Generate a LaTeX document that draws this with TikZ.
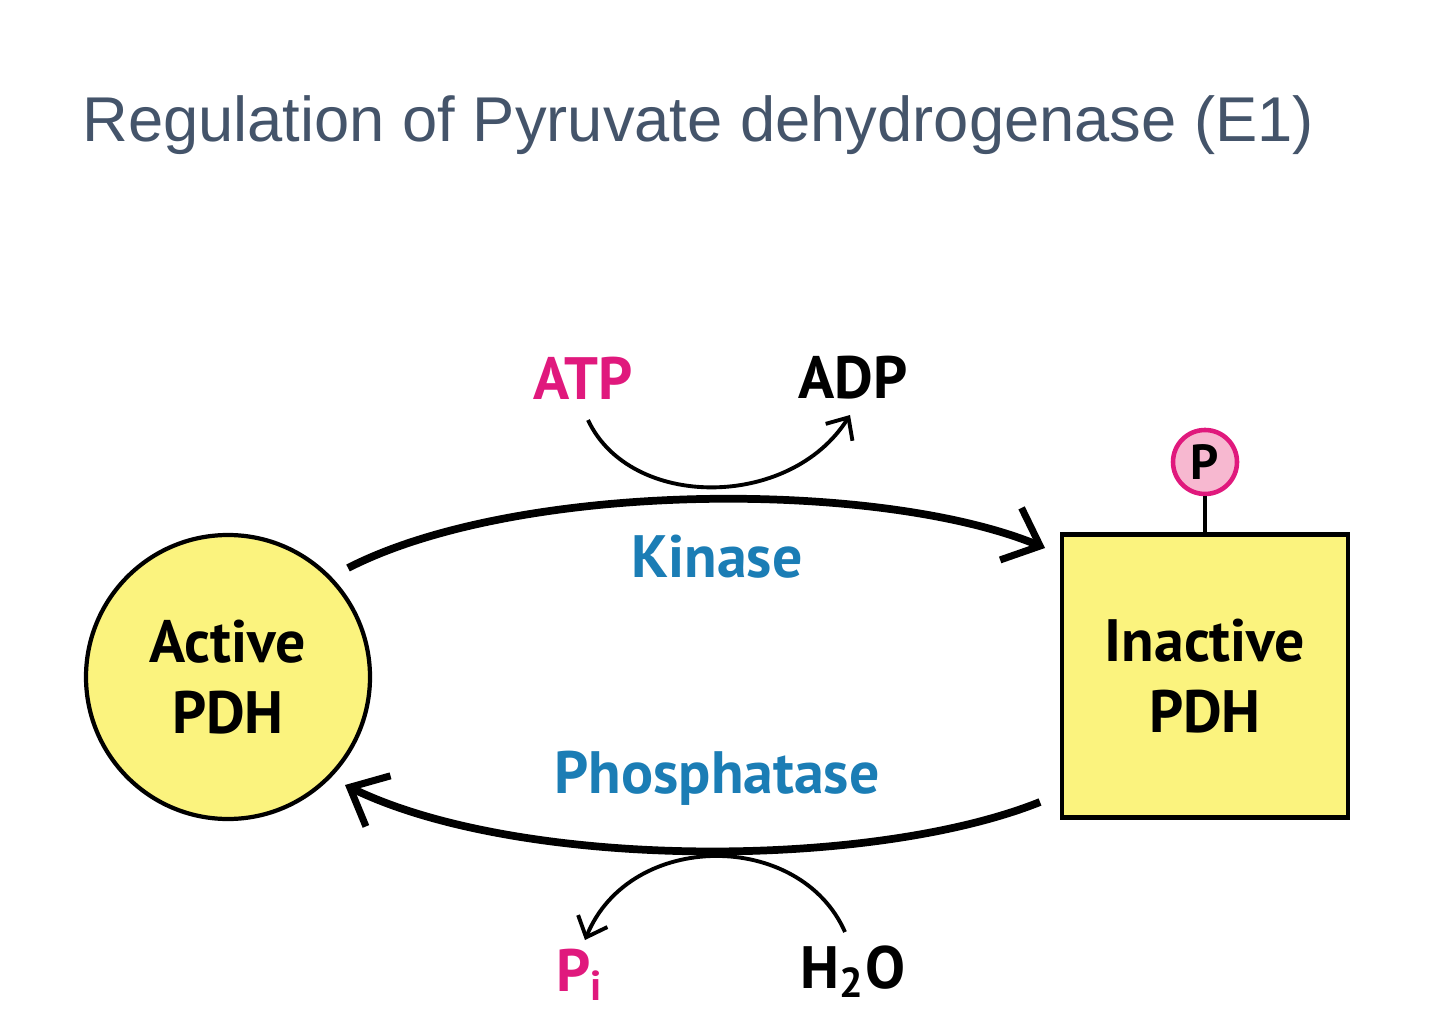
\documentclass[tikz,border=0pt]{standalone}
\usepackage{fontspec}
\setmainfont{PT Sans}
\newfontfamily\titlefont{Liberation Sans}
\usetikzlibrary{arrows.meta}
\definecolor{pyel}{HTML}{FBF37E}
\definecolor{mag}{HTML}{E0197D}
\definecolor{pblue}{HTML}{1B7DB5}
\definecolor{slate}{HTML}{44546A}
\definecolor{ppink}{HTML}{F7B8D0}
\tikzset{
 lbl/.style={font=\bfseries\fontsize{17}{20}\selectfont, align=center},
 big/.style={line width=2.2pt, -{Straight Barb[length=9pt,width=16pt,line width=2pt]}},
 big0/.style={line width=2.2pt},
 small/.style={line width=1.1pt},
 smallarr/.style={line width=1.1pt, -{Straight Barb[length=5pt,width=9pt,line width=1.1pt]}}
}
\begin{document}
\begin{tikzpicture}[x=0.01cm,y=-0.01cm]
\useasboundingbox (0,0) rectangle (1440,1031);
\node[anchor=west, text=slate, font=\titlefont\fontsize{18}{22}\selectfont] (title) at (70,125) {Regulation of Pyruvate dehydrogenase (E1)};
\node[circle, draw, line width=1.2pt, fill=pyel, minimum size=284*0.01cm, lbl] (act) at (228,677) {Active\\PDH};
\node[rectangle, draw, line width=1.2pt, fill=pyel, minimum width=286*0.01cm, minimum height=283*0.01cm, lbl] (inact) at (1205,676) {Inactive\\PDH};
\node[circle, draw=mag, line width=1.3pt, fill=ppink, minimum size=64*0.01cm, inner sep=0pt, font=\bfseries\fontsize{14}{16}\selectfont] (p) at (1205,462) {P};
\draw[line width=1.1pt] (p.south) -- (inact.north);
\coordinate (k1) at (348,568);
\coordinate (k2) at (1045,548);
\draw[big] (k1) .. controls (520,480) and (880,480) .. (k2);
\coordinate (f1) at (1040,802);
\coordinate (f2) at (345,785);
\draw[big] (f1) .. controls (870,870) and (520,870) .. (f2);
\node[lbl, text=mag] (atp) at (583,378) {ATP};
\node[lbl] (adp) at (853,378) {ADP};
\node[lbl, text=pblue] (kin) at (717,557) {Kinase};
\node[lbl, text=pblue] (pho) at (717,778) {Phosphatase};
\node[lbl, text=mag] (pi) at (580,975) {P$_{\mathbf i}$};
\node[lbl] (h2o) at (853,972) {H$_{\mathbf 2}$O};
\coordinate (a1) at (588,420);
\coordinate (a2) at (850,415);
\draw[smallarr] (a1) .. controls (630,510) and (790,510) .. (a2);
\coordinate (b1) at (845,932);
\coordinate (b2) at (585,940);
\draw[smallarr] (b1) .. controls (800,830) and (630,830) .. (b2);
\end{tikzpicture}
\end{document}
